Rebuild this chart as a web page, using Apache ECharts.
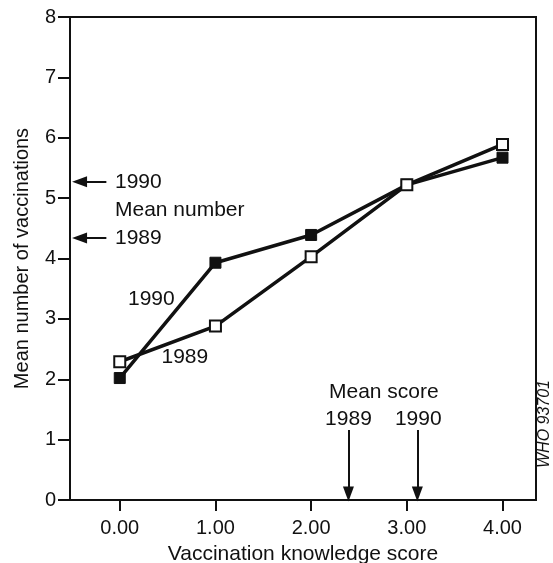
<!DOCTYPE html>
<html>
<head>
<meta charset="utf-8">
<script src="https://cdn.jsdelivr.net/npm/echarts@6/dist/echarts.min.js"></script>
<style>
  html, body {margin: 0; padding: 0; background: #fff;}
  #chart {width: 553px; height: 563px;}
</style>
</head>
<body>
<div id="chart"></div>
<script>
const scores = [0, 1, 2, 3, 4];
const xTicks = [0, 1, 2, 3, 4];
const vacc1989 = [2.29, 2.88, 4.03, 5.22, 5.89];
const vacc1990 = [2.02, 3.93, 4.39, 5.22, 5.67];
// mean number of vaccinations per year (left arrows)
const meanNumber = {1989: 4.34, 1990: 5.27};
// mean knowledge score per year (down arrows)
const meanScore = {1989: 2.39, 1990: 3.11};

const ink = '#111';
const font = '"Liberation Sans", Arial, sans-serif';

const myChart = echarts.init(document.getElementById('chart'));

const txt = (name, coord, align) => ({
    name, coord,
    symbol: 'rect', symbolSize: 0,
    label: {show: true, formatter: name, position: 'inside', align: align || 'center',
        verticalAlign: 'middle', color: ink, fontSize: 21, fontFamily: font}
});

myChart.setOption({
    animation: false,
    grid: {left: 70, right: 17, top: 17, bottom: 63, show: true,
        outerBoundsMode: 'none', containLabel: false,
        borderColor: ink, borderWidth: 2, backgroundColor: 'transparent'},
    xAxis: {
        type: 'value', min: -0.52, max: 4.35,
        name: 'Vaccination knowledge score', nameLocation: 'middle', nameGap: 44,
        nameTextStyle: {color: ink, fontSize: 21, fontFamily: font},
        axisLine: {show: true, onZero: false, lineStyle: {color: ink, width: 2}},
        axisTick: {show: true, length: 11, customValues: xTicks, lineStyle: {color: ink, width: 2}},
        axisLabel: {customValues: xTicks, color: ink, fontSize: 20, fontFamily: font, margin: 18,
            formatter: v => v.toFixed(2)},
        splitLine: {show: false}
    },
    yAxis: {
        type: 'value', min: 0, max: 8, interval: 1,
        name: 'Mean number of vaccinations', nameLocation: 'middle', nameGap: 38,
        nameTextStyle: {color: ink, fontSize: 20, fontFamily: font},
        axisLine: {show: true, onZero: false, lineStyle: {color: ink, width: 2}},
        axisTick: {show: true, length: 12, lineStyle: {color: ink, width: 2}},
        axisLabel: {color: ink, fontSize: 20, fontFamily: font, margin: 14},
        splitLine: {show: false}
    },
    series: [
        {
            name: '1990', type: 'line', z: 2, clip: false,
            data: scores.map((s, i) => [s, vacc1990[i]]),
            symbol: 'rect', symbolSize: 11,
            itemStyle: {color: ink, borderColor: ink, borderWidth: 1},
            lineStyle: {color: ink, width: 3.5},
            markLine: {
                silent: true, symbol: ['none', 'triangle'], symbolSize: [11, 15],
                lineStyle: {color: ink, width: 2, type: 'solid'},
                label: {show: false},
                data: [
                    [{coord: [-0.14, meanNumber[1990]]}, {coord: [-0.42, meanNumber[1990]]}],
                    [{coord: [-0.14, meanNumber[1989]]}, {coord: [-0.42, meanNumber[1989]]}],
                    [{coord: [meanScore[1989], 1.16]}, {coord: [meanScore[1989], 0.1]}],
                    [{coord: [meanScore[1990], 1.16]}, {coord: [meanScore[1990], 0.1]}]
                ]
            },
            markPoint: {
                silent: true,
                data: [
                    txt('1990', [-0.05, meanNumber[1990]], 'left'),
                    txt('Mean number', [-0.05, 4.80], 'left'),
                    txt('1989', [-0.05, meanNumber[1989]], 'left'),
                    txt('1990', [0.33, 3.32]),
                    txt('1989', [0.68, 2.37]),
                    txt('Mean score', [2.76, 1.78]),
                    txt('1989', [meanScore[1989], 1.34]),
                    txt('1990', [meanScore[1990] + 0.01, 1.34])
                ]
            }
        },
        {
            name: '1989', type: 'line', z: 3,
            data: scores.map((s, i) => [s, vacc1989[i]]),
            symbol: 'rect', symbolSize: 11,
            itemStyle: {color: '#fff', borderColor: ink, borderWidth: 2},
            lineStyle: {color: ink, width: 3.5}
        }
    ],
    graphic: [{
        type: 'text', x: 545, y: 424, rotation: Math.PI / 2,
        style: {text: 'WHO 93701', fill: ink, fontSize: 16, fontStyle: 'italic',
            fontFamily: font, align: 'center', verticalAlign: 'middle'}
    }]
});
</script>
</body>
</html>
